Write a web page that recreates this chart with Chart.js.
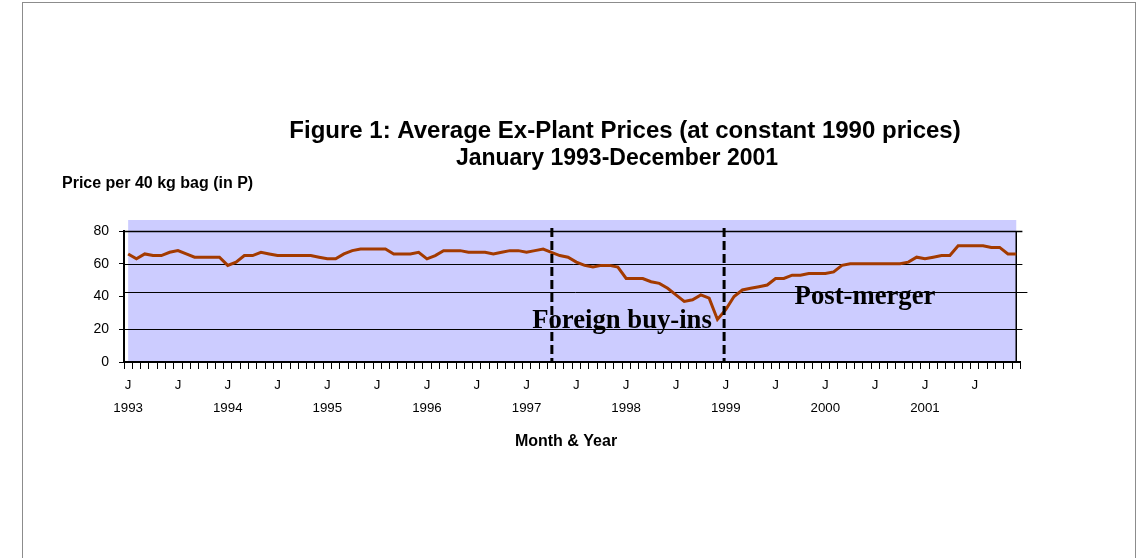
<!DOCTYPE html>
<html>
<head>
<meta charset="utf-8">
<title>Average Ex-Plant Prices</title>
<script src="https://cdn.jsdelivr.net/npm/chart.js@4.4.1/dist/chart.umd.min.js"></script>
<style>
	html, body { margin: 0; padding: 0; background: #ffffff; }
	#wrap { position: relative; width: 1137px; height: 558px; }
</style>
</head>
<body>
<div id="wrap"><canvas id="priceChart"></canvas></div>
<script>
// monthly prices, Jan..Dec of each year
const years = [1993, 1994, 1995, 1996, 1997, 1998, 1999, 2000, 2001];
const prices1993 = [66, 63, 66, 65, 65, 67, 68, 66, 64, 64, 64, 64];
const prices1994 = [59, 61, 65, 65, 67, 66, 65, 65, 65, 65, 65, 64];
const prices1995 = [63, 63, 66, 68, 69, 69, 69, 69, 66, 66, 66, 67];
const prices1996 = [63, 65, 68, 68, 68, 67, 67, 67, 66, 67, 68, 68];
const prices1997 = [67, 68, 69, 67, 65, 64, 61, 59, 58, 59, 59, 58];
const prices1998 = [51, 51, 51, 49, 48, 45, 41, 37, 38, 41, 39, 26];
const prices1999 = [32, 40, 44, 45, 46, 47, 51, 51, 53, 53, 54, 54];
const prices2000 = [54, 55, 59, 60, 60, 60, 60, 60, 60, 60, 61, 64];
const prices2001 = [63, 64, 65, 65, 71, 71, 71, 71, 70, 70, 66, 66];

const yTicks = [0, 20, 40, 60, 80];
// horizontal rules as they appear in the figure (the middle one sits a bit above 40)
const ruleValues = [20, 42.6, 60, 80];
// dashed markers, as month positions counted from Jan 1993
const buyInMark = 51.05;
const mergerMark = 71.8;

const prices = [prices1993, prices1994, prices1995, prices1996, prices1997, prices1998, prices1999, prices2000, prices2001].flat();
const labels = [];
years.forEach((yr) => {
	for (let m = 0; m < 12; m++) labels.push({ m, yr });
});

const sans = "'Liberation Sans', Arial, sans-serif";
const serif = "'Liberation Serif', 'Times New Roman', serif";

const pixelAt = (scale, pos) => {
	const i = Math.floor(pos);
	const a = scale.getPixelForValue(i);
	const b = scale.getPixelForValue(i + 1);
	return a + (b - a) * (pos - i);
};

const decor = {
	id: 'decor',
	beforeDraw(chart) {
		const { ctx, chartArea, scales } = chart;
		const x = scales.x, y = scales.y;
		ctx.save();
		ctx.fillStyle = '#ffffff';
		ctx.fillRect(0, 0, chart.width, chart.height);
		// outer frame
		ctx.strokeStyle = '#8c8c8c';
		ctx.lineWidth = 1;
		ctx.strokeRect(22.5, 2.5, 1113, 600);
		// plot fill
		const left = x.getPixelForValue(0);
		const right = x.getPixelForValue(prices.length - 1);
		ctx.fillStyle = '#ccccff';
		ctx.fillRect(left, chartArea.top - 11, right - left, chartArea.bottom - chartArea.top + 11);
		// rules
		ctx.strokeStyle = '#000000';
		ruleValues.forEach((v) => {
			const py = Math.round(y.getPixelForValue(v)) + 0.5;
			ctx.lineWidth = v === 80 ? 1.5 : 1;
			ctx.beginPath();
			ctx.moveTo(chartArea.left, py);
			ctx.lineTo(chartArea.right + (v === 42.6 ? 7 : 2), py);
			ctx.stroke();
		});
		ctx.lineWidth = 1.5;
		ctx.beginPath();
		ctx.moveTo(right, chartArea.top);
		ctx.lineTo(right, chartArea.bottom);
		ctx.stroke();
		ctx.restore();
	},
	afterDatasetsDraw(chart) {
		const { ctx, chartArea, scales } = chart;
		const x = scales.x;
		ctx.save();
		ctx.strokeStyle = '#000000';
		ctx.lineWidth = 3;
		ctx.setLineDash([9, 4]);
		[buyInMark, mergerMark].forEach((pos) => {
			const px = pixelAt(x, pos);
			ctx.beginPath();
			ctx.moveTo(px, chartArea.top - 3);
			ctx.lineTo(px, chartArea.bottom);
			ctx.stroke();
		});
		ctx.setLineDash([]);

		ctx.fillStyle = '#000000';
		ctx.textBaseline = 'alphabetic';
		ctx.textAlign = 'center';
		ctx.font = `bold 26.7px ${serif}`;
		ctx.fillText('Foreign buy-ins', 622, 328);
		ctx.fillText('Post-merger', 865, 304);

		ctx.font = `bold 24px ${sans}`;
		ctx.fillText('Figure 1: Average Ex-Plant Prices (at constant 1990 prices)', 625, 138);
		ctx.font = `bold 23px ${sans}`;
		ctx.fillText('January 1993-December 2001', 617, 165);

		ctx.font = `bold 16px ${sans}`;
		ctx.textAlign = 'left';
		ctx.fillText('Price per 40 kg bag (in P)', 62, 188);
		ctx.textAlign = 'center';
		ctx.fillText('Month & Year', 566, 446);
		ctx.restore();
	},
};

const chart = new Chart(document.getElementById('priceChart'), {
	type: 'line',
	data: {
		labels,
		datasets: [{
			label: 'Average ex-plant price',
			data: prices,
			borderColor: '#a33a00',
			borderWidth: 3,
			pointRadius: 0,
			tension: 0,
			fill: false,
		}],
	},
	options: {
		responsive: true,
		maintainAspectRatio: false,
		animation: false,
		layout: { padding: { left: 64, right: 116.6, top: 231, bottom: 0 } },
		plugins: { legend: { display: false }, tooltip: { enabled: false } },
		scales: {
			x: {
				offset: true,
				afterFit: (scale) => { scale.height = 196; },
				grid: { offset: true, drawOnChartArea: false, drawTicks: true, tickLength: 7, color: '#000000', lineWidth: 1 },
				border: { display: true, color: '#000000', width: 2 },
				ticks: {
					autoSkip: false,
					maxRotation: 0,
					minRotation: 0,
					padding: 5,
					color: '#000000',
					font: { family: sans, size: 13.3, lineHeight: 1.73 },
					callback: (val, i) => {
						const l = labels[i];
						if (l.m === 0) return ['J', String(l.yr)];
						if (l.m === 6) return ['J', ''];
						return '';
					},
				},
			},
			y: {
				min: 0,
				max: 80,
				afterFit: (scale) => { scale.width = 60; },
				afterBuildTicks: (scale) => { scale.ticks = yTicks.map((v) => ({ value: v })); },
				grid: { drawOnChartArea: false, drawTicks: true, tickLength: 5, color: '#000000' },
				border: { display: true, color: '#000000', width: 2 },
				ticks: { padding: 10, color: '#000000', font: { family: sans, size: 14 } },
			},
		},
	},
	plugins: [decor],
});
</script>
</body>
</html>
